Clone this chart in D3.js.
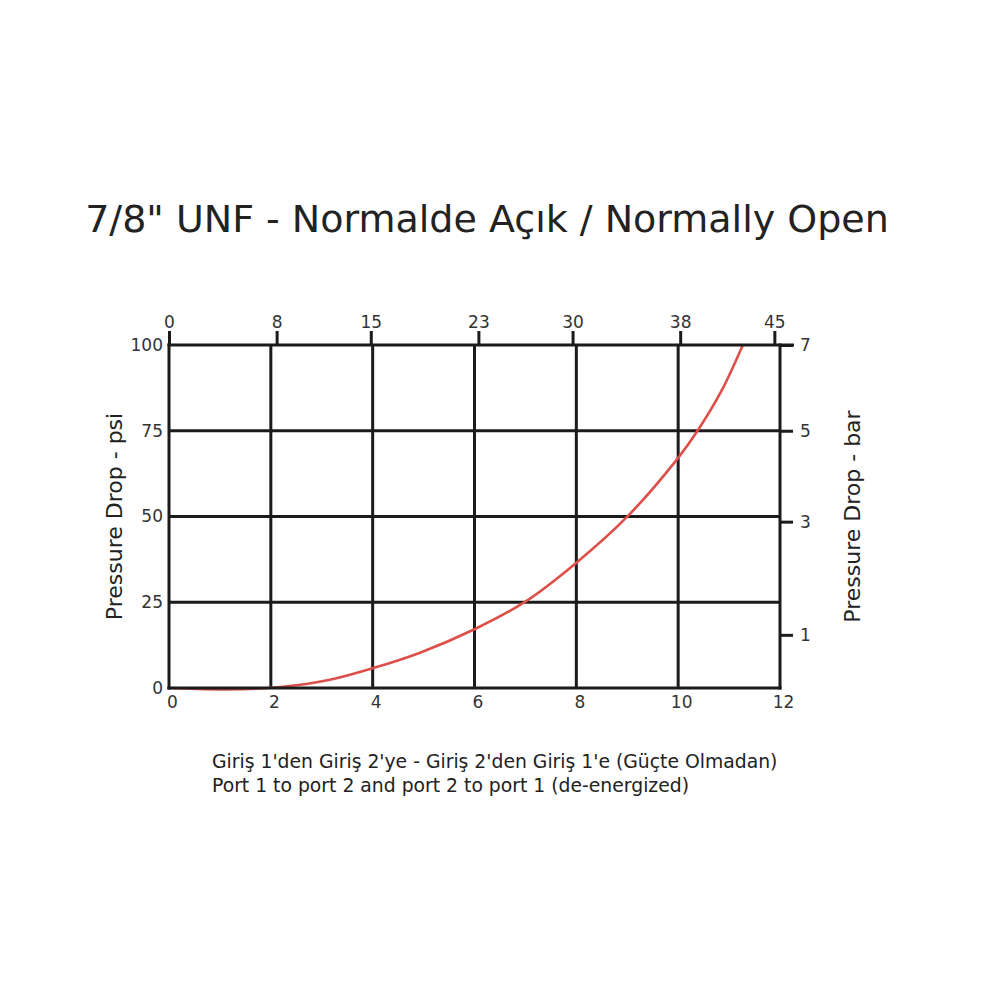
<!DOCTYPE html>
<html>
<head>
<meta charset="utf-8">
<script src="https://cdn.jsdelivr.net/npm/d3@7"></script>
<style>
  html, body { margin: 0; padding: 0; background: #fff; }
  svg { display: block; }
  text { font-family: "DejaVu Sans", Verdana, sans-serif; }
</style>
</head>
<body>
<svg id="chart" width="1000" height="1000"></svg>
<script>
// ---- data ----
const titleText = "7/8\" UNF - Normalde Açık / Normally Open";
const captionLines = [
  "Giriş 1'den Giriş 2'ye - Giriş 2'den Giriş 1'e (Güçte Olmadan)",
  "Port 1 to port 2 and port 2 to port 1 (de-energized)"
];
const yLeftTitle = "Pressure Drop - psi";
const yRightTitle = "Pressure Drop - bar";

const gpmTicks = [0, 2, 4, 6, 8, 10, 12];          // bottom axis
const lpmTicks = [0, 8, 15, 23, 30, 38, 45];       // top axis
const psiTicks = [0, 25, 50, 75, 100];             // left axis
const barTicks = [1, 3, 5, 7];                     // right axis
const barTickPsi = [15.5, 48.5, 75, 100];          // psi level at which each bar tick is drawn

// curve: flow (gpm) vs pressure drop (psi)
const flowGpm = [0, 1.1, 2.2, 3.16, 4.01, 4.93, 6.01, 6.99, 7.99, 9.01, 10.0, 10.39, 10.86, 11.27];
const dropPsi = [0, -0.4, 0.3, 2.4, 5.8, 10.3, 17.2, 25.1, 36.4, 50.1, 67.1, 75.2, 86.9, 100];

// ---- layout ----
const L = 169, R = 780, T = 345, B = 688;
const svg = d3.select("#chart");

const x = d3.scaleLinear().domain([0, 12]).range([L, R]);
const xTop = d3.scaleLinear().domain([0, 12 * 3.785]).range([L, R]);
const y = d3.scaleLinear().domain([0, 100]).range([B, T]);
const yBar = d3.scaleLinear().domain(barTicks).range(barTickPsi.map(p => y(p)));

const ink = "#1b1b1b";
const labelColor = "#333";

// title
svg.append("text")
  .attr("x", 487).attr("y", 232)
  .attr("text-anchor", "middle")
  .attr("font-size", 38)
  .attr("fill", "#222")
  .text(titleText);

// gridlines
svg.append("g").selectAll("line.v")
  .data(gpmTicks.filter(d => d > 0 && d < 12))
  .join("line")
  .attr("x1", d => x(d)).attr("x2", d => x(d))
  .attr("y1", T).attr("y2", B)
  .attr("stroke", ink).attr("stroke-width", 3);

svg.append("g").selectAll("line.h")
  .data(psiTicks.filter(d => d > 0 && d < 100))
  .join("line")
  .attr("x1", L).attr("x2", R)
  .attr("y1", d => y(d)).attr("y2", d => y(d))
  .attr("stroke", ink).attr("stroke-width", 3);

// curve
const line = d3.line()
  .x((d, i) => x(flowGpm[i]))
  .y((d, i) => y(dropPsi[i]))
  .curve(d3.curveCatmullRom.alpha(0.5));
svg.append("path")
  .datum(flowGpm)
  .attr("d", line)
  .attr("fill", "none")
  .attr("stroke", "#dc5049")
  .attr("stroke-width", 2.6)
  .attr("stroke-linecap", "round");

// bottom axis
const gBottom = svg.append("g").attr("transform", `translate(0,${B})`)
  .call(d3.axisBottom(x).tickValues(gpmTicks).tickSize(0).tickPadding(8).tickFormat(d3.format("d")));
// left axis
const gLeft = svg.append("g").attr("transform", `translate(${L},0)`)
  .call(d3.axisLeft(y).tickValues(psiTicks).tickSize(0).tickPadding(6).tickFormat(d3.format("d")));
// right axis
const gRight = svg.append("g").attr("transform", `translate(${R},0)`)
  .call(d3.axisRight(yBar).tickValues(barTicks).tickSize(13).tickPadding(7).tickFormat(d3.format("d")));
// top axis
const gTop = svg.append("g").attr("transform", `translate(0,${T})`)
  .call(d3.axisTop(xTop).tickValues(lpmTicks).tickSize(14).tickPadding(3).tickFormat(d3.format("d")));

[gBottom, gLeft, gRight, gTop].forEach(g => {
  g.select(".domain").remove();
  g.selectAll(".tick line").attr("stroke", ink).attr("stroke-width", 3);
  g.selectAll(".tick text")
    .attr("fill", labelColor)
    .attr("font-size", 17)
    .attr("font-family", "DejaVu Sans, Verdana, sans-serif");
});
gBottom.selectAll(".tick text").attr("dx", 3);
gLeft.selectAll(".tick text").attr("dy", "0.32em");

// frame
svg.append("line").attr("x1", L).attr("x2", L).attr("y1", T - 1.5).attr("y2", B + 1.5)
  .attr("stroke", ink).attr("stroke-width", 3);
svg.append("line").attr("x1", R).attr("x2", R).attr("y1", T - 1.5).attr("y2", B + 1.5)
  .attr("stroke", ink).attr("stroke-width", 3);
svg.append("line").attr("x1", L - 1.5).attr("x2", R + 1.5).attr("y1", B).attr("y2", B)
  .attr("stroke", ink).attr("stroke-width", 3);
svg.append("line").attr("x1", L - 1.5).attr("x2", R + 14).attr("y1", T).attr("y2", T)
  .attr("stroke", ink).attr("stroke-width", 3);

// axis titles
svg.append("text")
  .attr("transform", `translate(122,${(T + B) / 2}) rotate(-90)`)
  .attr("text-anchor", "middle")
  .attr("font-size", 22)
  .attr("fill", "#222")
  .text(yLeftTitle);
svg.append("text")
  .attr("transform", `translate(860,${(T + B) / 2}) rotate(-90)`)
  .attr("text-anchor", "middle")
  .attr("font-size", 22)
  .attr("fill", "#222")
  .text(yRightTitle);

// caption
svg.append("g").selectAll("text")
  .data(captionLines)
  .join("text")
  .attr("x", 212)
  .attr("y", (d, i) => 768 + i * 24)
  .attr("font-size", 18.8)
  .attr("fill", "#222")
  .text(d => d);
</script>
</body>
</html>
